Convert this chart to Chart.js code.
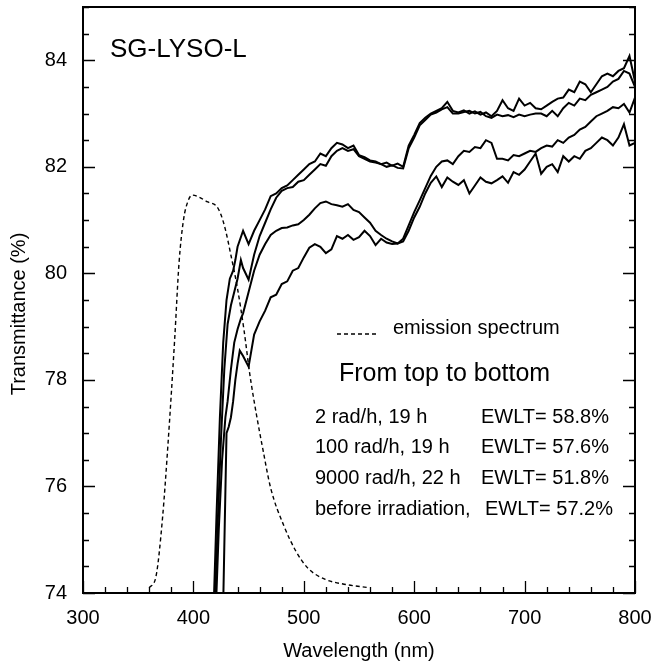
<!DOCTYPE html>
<html>
<head>
<meta charset="utf-8">
<script src="https://cdn.jsdelivr.net/npm/chart.js@4.4.0/dist/chart.umd.min.js"></script>
<style>
  body { margin: 0; background: #fff; }
</style>
</head>
<body>
<canvas id="chart" width="654" height="665"></canvas>
<script>
// shared wavelength grid (nm) past the absorption edge
const wlGrid = [445,450,455,460,465,470,475,480,485,490,495,500,505,510,515,520,525,530,535,540,
  545,550,555,560,565,570,575,580,585,590,595,600,605,610,615,620,625,630,635,640,
  645,650,655,660,665,670,675,680,685,690,695,700,705,710,715,720,725,730,735,740,
  745,750,755,760,765,770,775,780,785,790,795,800];

// 2 rad/h, 19 h
const edge2rad = [418, 421, 424, 427, 430, 433, 436, 438, 440];
const edge2radT = [73.5, 75.5, 77.3, 78.7, 79.5, 79.9, 80.05, 80.25, 80.5];
const trans2rad = [80.8,80.55,80.8,81.0,81.2,81.45,81.5,81.6,81.65,81.75,81.85,81.95,82.05,82.1,82.25,82.2,82.35,82.45,82.42,82.35,
  82.4,82.22,82.18,82.12,82.1,82.05,82.08,82.02,82.06,82.0,82.4,82.6,82.82,82.92,83.0,83.05,83.1,83.22,83.05,83.02,
  83.06,83.0,83.04,82.98,83.02,82.95,83.05,83.25,83.1,83.05,83.28,83.15,83.2,83.1,83.08,83.15,83.22,83.28,83.3,83.45,
  83.4,83.6,83.55,83.4,83.55,83.7,83.75,83.7,83.8,83.85,84.08,83.6];

// 100 rad/h, 19 h
const edge100rad = [419, 422, 425, 428, 431, 434, 437, 440, 443];
const edge100radT = [73.5, 75.3, 76.9, 78.2, 79.05, 79.4, 79.65, 79.9, 80.25];
const trans100rad = [80.1,79.88,80.35,80.7,80.95,81.2,81.42,81.55,81.6,81.62,81.72,81.75,81.85,81.95,82.05,82.02,82.2,82.3,82.35,82.3,
  82.33,82.2,82.15,82.1,82.08,82.05,82.0,82.03,81.98,81.97,82.35,82.55,82.78,82.88,82.98,83.02,83.08,83.12,83.0,83.0,
  83.03,83.05,83.0,83.03,82.95,82.92,82.98,82.95,82.97,82.93,82.98,82.95,82.98,83.0,83.0,82.95,83.05,82.95,83.1,83.2,
  83.15,83.28,83.25,83.35,83.4,83.45,83.5,83.6,83.65,83.8,83.75,83.5];

// 9000 rad/h, 22 h
const edge9000rad = [420, 423, 426, 429, 431, 434, 437, 440, 443];
const edge9000radT = [73.5, 75.2, 76.5, 77.3, 77.6, 78.2, 78.7, 78.95, 79.15];
const trans9000rad = [79.25,79.65,80.05,80.35,80.55,80.72,80.8,80.85,80.86,80.9,80.92,81.0,81.1,81.22,81.32,81.35,81.3,81.28,81.25,81.3,
  81.19,81.15,81.05,80.95,80.8,80.72,80.65,80.6,80.56,80.65,80.9,81.15,81.37,81.6,81.83,82.0,82.1,82.12,82.05,82.2,
  82.3,82.28,82.37,82.35,82.5,82.45,82.15,82.15,82.12,82.22,82.2,82.25,82.3,82.28,82.35,82.4,82.38,82.5,82.45,82.55,
  82.6,82.7,82.75,82.85,82.95,83.0,83.05,83.12,83.1,83.18,83.02,83.3];

// before irradiation
const edgeBefore = [427, 430, 432, 434, 436, 438, 440, 442];
const edgeBeforeT = [73.8, 77.0, 77.12, 77.3, 77.6, 78.0, 78.3, 78.55];
const transBefore = [78.45,78.25,78.85,79.1,79.3,79.55,79.6,79.8,79.85,80.05,80.1,80.3,80.48,80.55,80.5,80.38,80.45,80.7,80.65,80.72,
  80.63,80.68,80.8,80.7,80.53,80.65,80.58,80.55,80.56,80.6,80.8,81.05,81.25,81.5,81.7,81.82,81.62,81.8,81.72,81.66,
  81.75,81.5,81.65,81.8,81.72,81.69,81.75,81.82,81.7,81.9,81.85,81.95,82.1,82.25,81.87,82.0,82.05,81.9,82.2,82.1,
  82.2,82.15,82.3,82.35,82.45,82.55,82.5,82.4,82.55,82.8,82.4,82.45];

// emission spectrum (arbitrary units, drawn on the same axis)
const emWl = [360, 366, 372, 377, 383, 387, 391, 395, 399, 406, 413, 421, 425, 429, 434, 440, 446, 451, 457, 463, 470, 482, 493, 504, 519, 538, 559];
const emVal = [74.1, 74.3, 75.4, 76.8, 78.75, 80.2, 81.0, 81.35, 81.47, 81.42, 81.34, 81.26, 81.1, 80.82, 80.34, 79.71, 78.91, 78.12, 77.36, 76.69, 75.97, 75.26, 74.78, 74.46, 74.26, 74.16, 74.1];

const xTicks = [300, 400, 500, 600, 700, 800];
const yTicks = [74, 76, 78, 80, 82, 84];

const toPts = (xs, ys) => xs.map((x, i) => ({ x: x, y: ys[i] }));
const curve = (ew, et, vals) => toPts(ew.concat(wlGrid), et.concat(vals));

const FONT = "'Liberation Sans', Arial, Helvetica, sans-serif";

const lineStyle = {
    borderColor: "#000",
    borderWidth: 2,
    pointRadius: 0,
    tension: 0,
    fill: false
};

const noPad = s => {
    s.paddingLeft = 0;
    s.paddingRight = 0;
    s.paddingTop = 0;
    s.paddingBottom = 0;
};

const decor = {
    id: "decor",
    afterDatasetsDraw(chart) {
        const { ctx, chartArea: a, scales: { x, y } } = chart;
        ctx.save();
        ctx.strokeStyle = "#000";
        ctx.lineWidth = 1.3;
        ctx.beginPath();
        for (let v = 300; v <= 800; v += 20) {
            const px = Math.round(x.getPixelForValue(v)) + 0.5;
            const len = v % 100 === 0 ? 12 : 6;
            ctx.moveTo(px, a.bottom);
            ctx.lineTo(px, a.bottom - len);
        }
        for (let v = 74; v <= 85; v += 0.5) {
            const py = Math.round(y.getPixelForValue(v)) + 0.5;
            const len = v % 2 === 0 ? 12 : 6;
            ctx.moveTo(a.left, py);
            ctx.lineTo(a.left + len, py);
            ctx.moveTo(a.right, py);
            ctx.lineTo(a.right - len, py);
        }
        ctx.stroke();
        ctx.lineWidth = 2;
        ctx.strokeRect(a.left, a.top, a.right - a.left, a.bottom - a.top);

        ctx.fillStyle = "#000";
        ctx.textBaseline = "alphabetic";
        ctx.textAlign = "left";

        ctx.font = "26px " + FONT;
        ctx.fillText("SG-LYSO-L", 110, 57);

        // dashed legend sample
        ctx.lineWidth = 1.5;
        ctx.setLineDash([4, 3]);
        ctx.beginPath();
        ctx.moveTo(337, 334);
        ctx.lineTo(379, 334);
        ctx.stroke();
        ctx.setLineDash([]);

        ctx.font = "20px " + FONT;
        ctx.fillText("emission spectrum", 393, 334);

        ctx.font = "25px " + FONT;
        ctx.fillText("From top to bottom", 339, 381);

        ctx.font = "20px " + FONT;
        const rows = [
            ["2 rad/h, 19 h", "EWLT= 58.8%", 481, 423],
            ["100 rad/h, 19 h", "EWLT= 57.6%", 481, 453],
            ["9000 rad/h, 22 h", "EWLT= 51.8%", 481, 484],
            ["before irradiation,", "EWLT= 57.2%", 485, 515]
        ];
        rows.forEach(r => {
            ctx.fillText(r[0], 315, r[3]);
            ctx.fillText(r[1], r[2], r[3]);
        });

        // axis titles
        ctx.font = "20px " + FONT;
        ctx.textAlign = "center";
        ctx.fillText("Wavelength (nm)", (a.left + a.right) / 2, 657);
        ctx.save();
        ctx.translate(25, 314);
        ctx.rotate(-Math.PI / 2);
        ctx.fillText("Transmittance (%)", 0, 0);
        ctx.restore();
        ctx.restore();
    }
};

new Chart(document.getElementById("chart"), {
    type: "line",
    data: {
        datasets: [
            Object.assign({ label: "2 rad/h, 19 h", data: curve(edge2rad, edge2radT, trans2rad) }, lineStyle),
            Object.assign({ label: "100 rad/h, 19 h", data: curve(edge100rad, edge100radT, trans100rad) }, lineStyle),
            Object.assign({ label: "9000 rad/h, 22 h", data: curve(edge9000rad, edge9000radT, trans9000rad) }, lineStyle),
            Object.assign({ label: "before irradiation", data: curve(edgeBefore, edgeBeforeT, transBefore) }, lineStyle),
            {
                label: "emission spectrum",
                data: toPts(emWl, emVal),
                borderColor: "#000",
                borderWidth: 1.4,
                borderDash: [4, 3],
                pointRadius: 0,
                cubicInterpolationMode: "monotone",
                fill: false
            }
        ]
    },
    options: {
        responsive: false,
        animation: false,
        layout: { padding: { left: 0, right: 19, top: 7, bottom: 0 } },
        plugins: {
            legend: { display: false },
            tooltip: { enabled: false }
        },
        scales: {
            x: {
                type: "linear",
                min: 300,
                max: 800,
                afterFit: s => { s.height = 72; noPad(s); },
                afterBuildTicks: s => { s.ticks = xTicks.map(v => ({ value: v })); },
                grid: { display: false, drawTicks: false },
                border: { display: false },
                ticks: { color: "#000", font: { size: 20, family: FONT }, padding: 13, maxRotation: 0 }
            },
            y: {
                min: 74,
                max: 85,
                afterFit: s => { s.width = 83; noPad(s); },
                afterBuildTicks: s => { s.ticks = yTicks.map(v => ({ value: v })); },
                grid: { display: false, drawTicks: false },
                border: { display: false },
                ticks: { color: "#000", font: { size: 20, family: FONT }, padding: 16 }
            }
        }
    },
    plugins: [decor]
});
</script>
</body>
</html>
